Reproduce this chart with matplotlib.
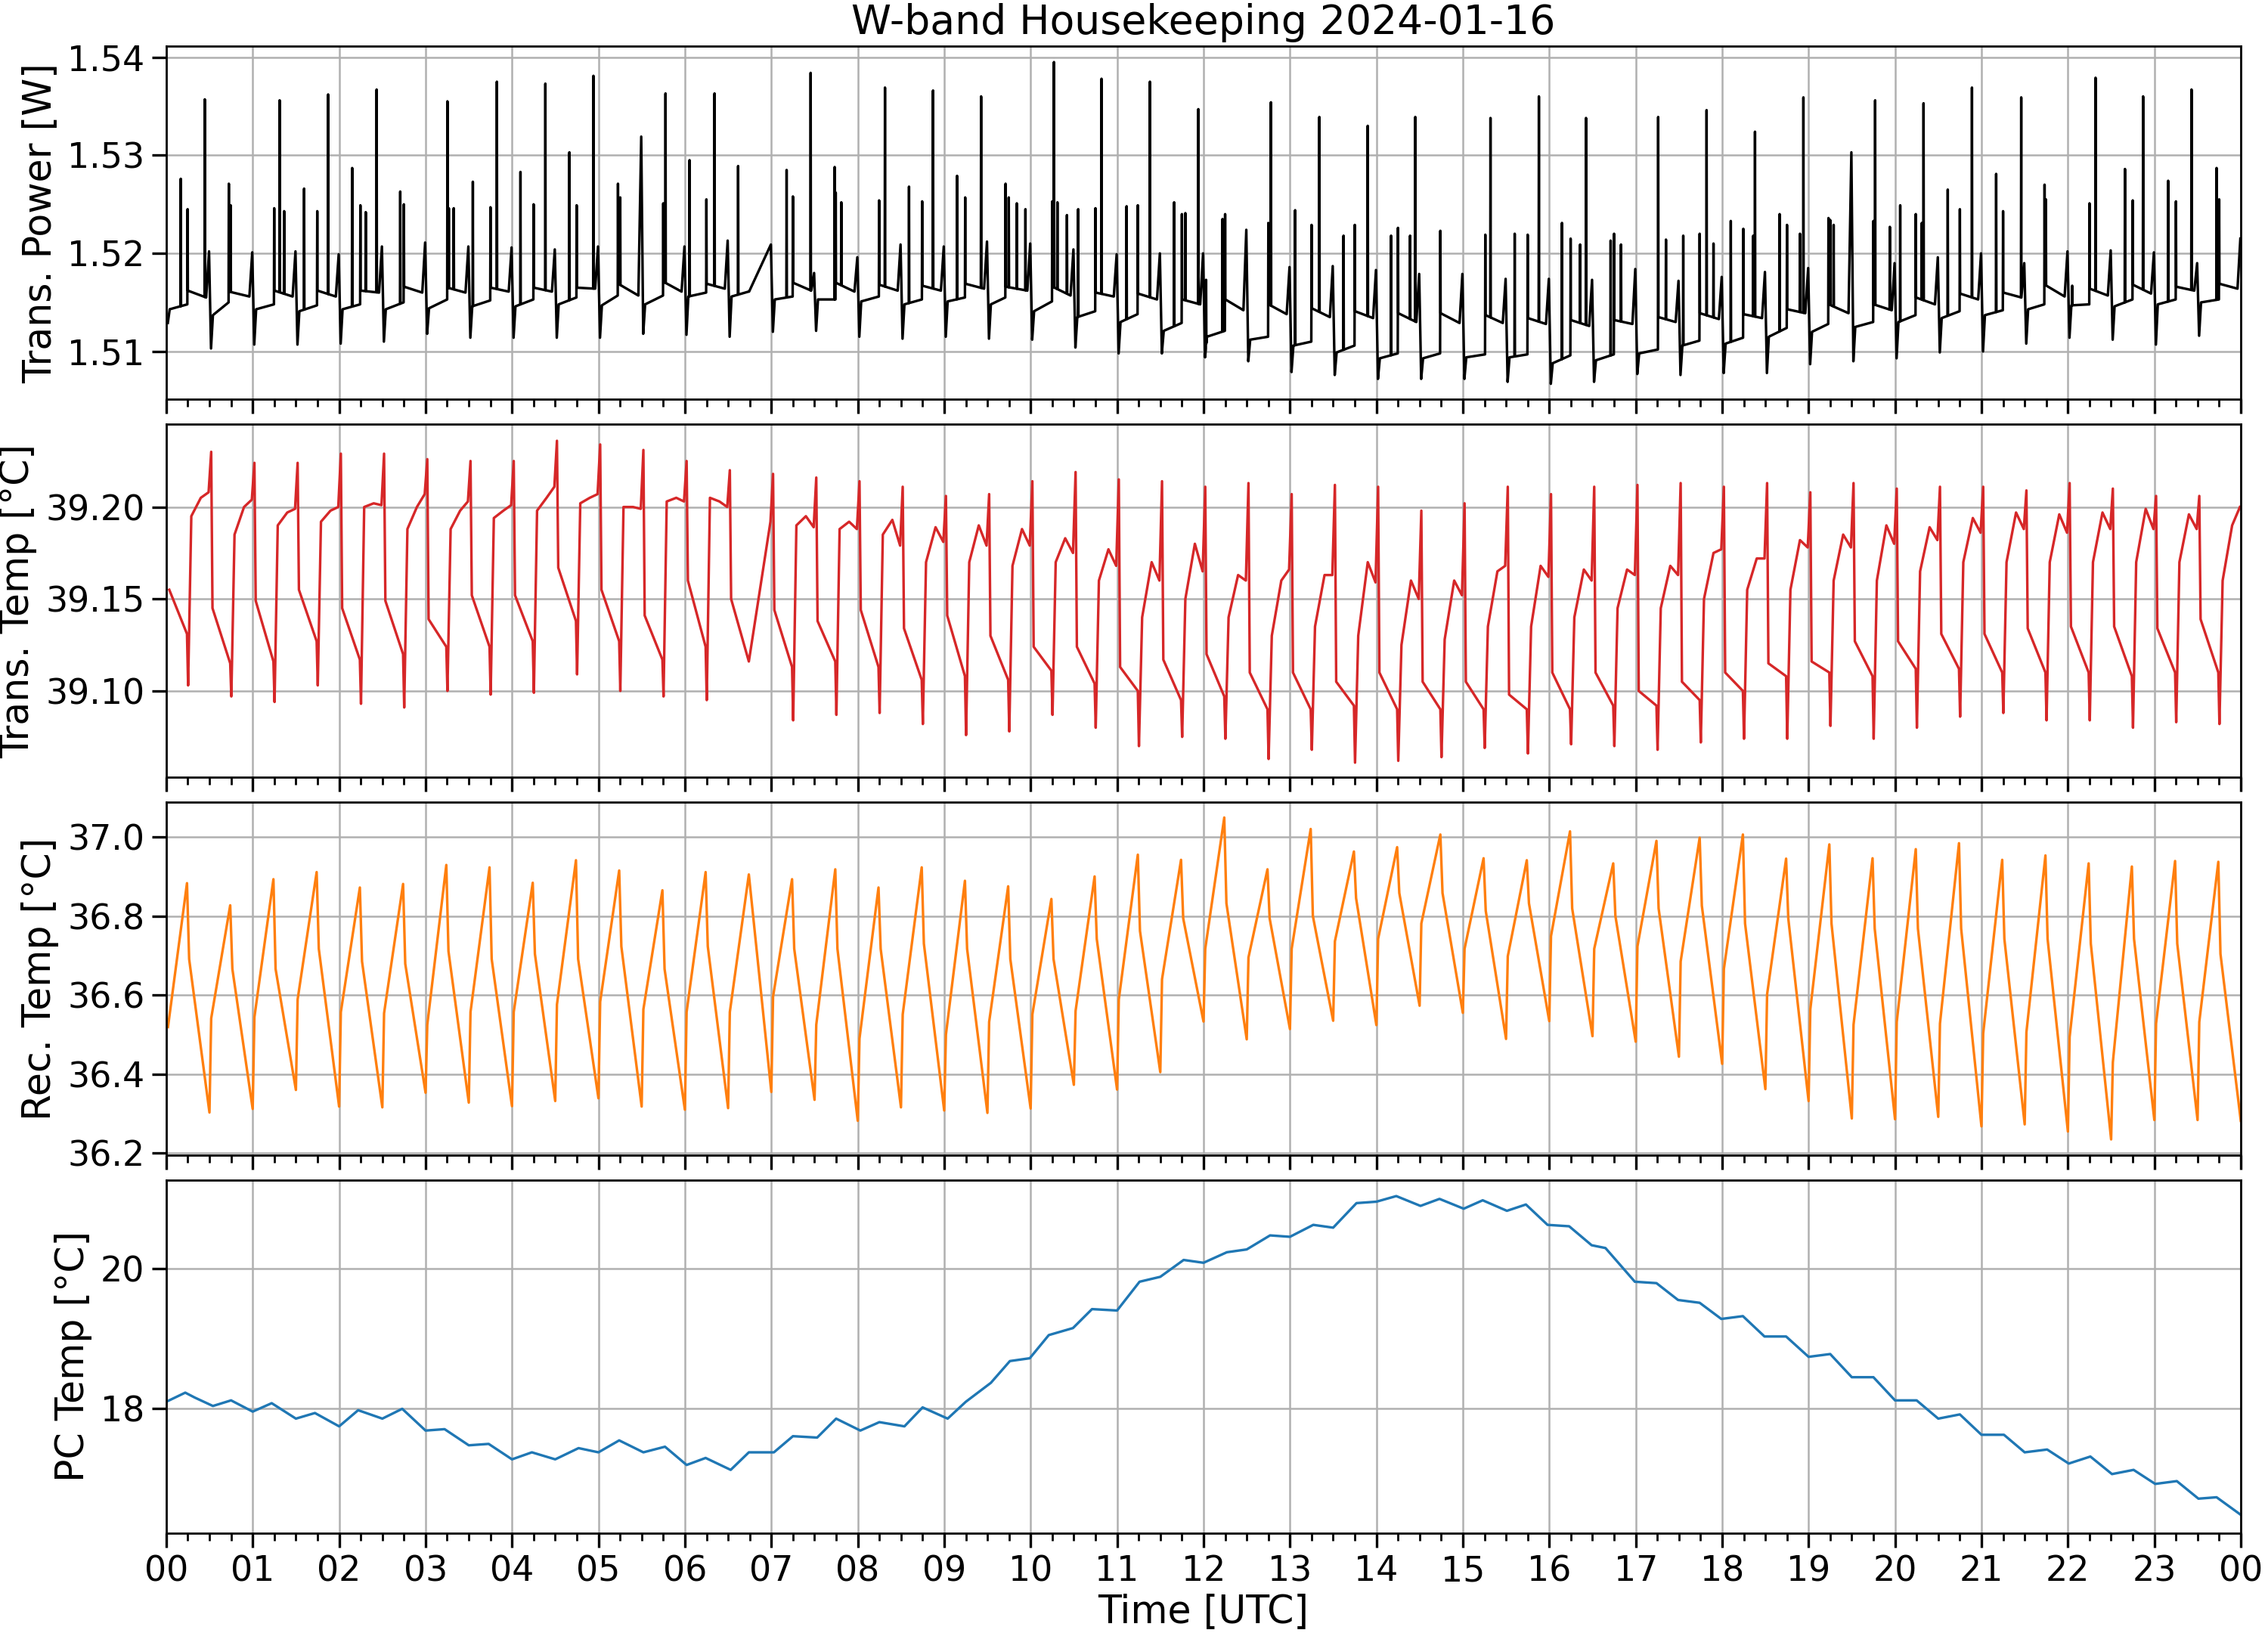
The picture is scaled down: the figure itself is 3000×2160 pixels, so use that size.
import numpy as np
import matplotlib
matplotlib.use("Agg")
import matplotlib.pyplot as plt
import matplotlib.dates as mdates
from matplotlib.ticker import MultipleLocator

day = np.datetime64("2024-01-16T00:00")
gap = (6.745, 6.99)  # no samples here, the line just bridges it

# ---- Trans. Power [W], one entry per half-hour cycle (cycle k starts at 0.5*k h)
pw_dip = [1.5129, 1.5103, 1.5107, 1.5107, 1.5108, 1.5110, 1.5118, 1.5114, 1.5114, 1.5114,
          1.5114, 1.5118, 1.5117, 1.5115, 1.5120, 1.5121, 1.5115, 1.5113, 1.5115, 1.5113,
          1.5112, 1.5104, 1.5098, 1.5098, 1.5094, 1.5090, 1.5079, 1.5076, 1.5072, 1.5072,
          1.5072, 1.5069, 1.5067, 1.5069, 1.5077, 1.5076, 1.5078, 1.5078, 1.5087, 1.5090,
          1.5093, 1.5099, 1.5100, 1.5108, 1.5114, 1.5112, 1.5107, 1.5116]
pw_low_start = [1.5143, 1.5137, 1.5143, 1.5141, 1.5143, 1.5143, 1.5144, 1.5146, 1.5146, 1.5148,
                1.5147, 1.5148, 1.5156, 1.5156, 1.5153, 1.5153, 1.5151, 1.5148, 1.5151, 1.5148,
                1.5141, 1.5135, 1.5130, 1.5121, 1.5115, 1.5112, 1.5106, 1.5099, 1.5093, 1.5093,
                1.5094, 1.5094, 1.5088, 1.5091, 1.5098, 1.5106, 1.5108, 1.5115, 1.5120, 1.5125,
                1.5130, 1.5134, 1.5137, 1.5143, 1.5147, 1.5146, 1.5148, 1.5150]
pw_low_end = [1.5148, 1.5150, 1.5148, 1.5147, 1.5148, 1.5150, 1.5153, 1.5152, 1.5153, 1.5155,
              1.5157, 1.5157, 1.5160, 1.5161, 1.5156, 1.5153, 1.5156, 1.5153, 1.5155, 1.5155,
              1.5151, 1.5141, 1.5138, 1.5129, 1.5121, 1.5115, 1.5110, 1.5106, 1.5098, 1.5098,
              1.5097, 1.5097, 1.5096, 1.5097, 1.5102, 1.5111, 1.5114, 1.5124, 1.5128, 1.5130,
              1.5137, 1.5141, 1.5142, 1.5148, 1.5148, 1.5153, 1.5153, 1.5153]
pw_step = [0.247, 0.724, 1.249, 1.747, 2.246, 2.749, 3.253, 3.751, 4.250, 4.748,
           5.226, 5.750, 6.249, 6.740, 7.250, 7.745, 8.247, 8.745, 9.243, 9.710,
           10.25, 10.75, 11.24, 11.75, 12.25, 12.75, 13.25, 13.75, 14.25, 14.74,
           15.26, 15.75, 16.247, 16.75, 17.26, 17.74, 18.245, 18.75, 19.23, 19.75,
           20.24, 20.75, 21.25, 21.73, 22.25, 22.75, 23.25, 23.75]
pw_high_start = [1.5162, 1.5161, 1.5162, 1.5162, 1.5162, 1.5166, 1.5165, 1.5165, 1.5165, 1.5165,
                 1.5169, 1.5171, 1.5169, 1.5161, 1.5170, 1.5170, 1.5168, 1.5167, 1.5169, 1.5166,
                 1.5166, 1.5160, 1.5159, 1.5153, 1.5153, 1.5148, 1.5144, 1.5141, 1.5139, 1.5139,
                 1.5137, 1.5134, 1.5132, 1.5132, 1.5135, 1.5139, 1.5138, 1.5143, 1.5148, 1.5148,
                 1.5155, 1.5159, 1.5160, 1.5168, 1.5164, 1.5168, 1.5166, 1.5169]
pw_high_end = [1.5155, 1.5156, 1.5156, 1.5156, 1.5160, 1.5160, 1.5160, 1.5161, 1.5161, 1.5164,
               1.5157, 1.5161, 1.5164, 1.5161, 1.5162, 1.5161, 1.5162, 1.5162, 1.5164, 1.5162,
               1.5157, 1.5156, 1.5153, 1.5148, 1.5142, 1.5138, 1.5135, 1.5134, 1.5130, 1.5129,
               1.5129, 1.5128, 1.5126, 1.5128, 1.5130, 1.5133, 1.5134, 1.5139, 1.5139, 1.5142,
               1.5148, 1.5153, 1.5155, 1.5156, 1.5157, 1.5159, 1.5162, 1.5164]
pw_ramp = [1.5202, 1.5201, 1.5202, 1.5199, 1.5207, 1.5211, 1.5207, 1.5206, 1.5204, 1.5207,
           1.5319, 1.5207, 1.5213, 1.5209, 1.5180, 1.5196, 1.5209, 1.5207, 1.5212, 1.5210,
           1.5204, 1.5199, 1.5200, 1.5200, 1.5224, 1.5186, 1.5187, 1.5183, 1.5179, 1.5179,
           1.5174, 1.5174, 1.5173, 1.5184, 1.5172, 1.5176, 1.5181, 1.5185, 1.5303, 1.5190,
           1.5196, 1.5200, 1.5190, 1.5202, 1.5203, 1.5201, 1.5190, 1.5215]
# short spikes (hour, W)
pw_spike_t = [0.168, 0.247, 0.446, 0.724, 0.745, 1.249, 1.312, 1.364, 1.595, 1.747, 1.873,
              2.151, 2.246, 2.308, 2.434, 2.707, 2.749, 3.253, 3.269, 3.326, 3.547, 3.751, 3.825,
              4.098, 4.250, 4.386, 4.664, 4.748, 4.942, 5.226, 5.252, 5.750, 5.776,
              6.054, 6.249, 6.343, 6.616, 7.177, 7.250, 7.455, 7.733, 7.745, 7.810,
              8.247, 8.315, 8.593, 8.745, 8.871, 9.149, 9.243, 9.427, 9.710, 9.747, 9.840, 9.940,
              10.25, 10.27, 10.31, 10.42, 10.55, 10.75, 10.82, 11.11, 11.24, 11.38,
              11.66, 11.75, 11.79, 11.94, 12.03, 12.22, 12.25, 12.75, 12.78,
              13.06, 13.25, 13.34, 13.62, 13.75, 13.90, 14.17, 14.25, 14.39, 14.45, 14.74,
              15.26, 15.32, 15.60, 15.75, 15.88, 16.147, 16.247, 16.357, 16.425,
              16.71, 16.75, 16.83, 17.26, 17.35, 17.55, 17.74, 17.82, 17.90,
              18.10, 18.245, 18.36, 18.38, 18.665, 18.75, 18.90, 18.94, 19.23, 19.25, 19.29,
              19.75, 19.77, 19.94, 20.06, 20.24, 20.31, 20.33, 20.61, 20.75, 20.89,
              21.17, 21.25, 21.46, 21.73, 21.745, 22.05, 22.25, 22.32, 22.66, 22.75, 22.87,
              23.16, 23.25, 23.43, 23.72, 23.75]
pw_spike_v = [1.5276, 1.5245, 1.5357, 1.5271, 1.5249, 1.5246, 1.5356, 1.5243, 1.5266, 1.5243, 1.5362,
              1.5287, 1.5249, 1.5242, 1.5367, 1.5263, 1.5250, 1.5355, 1.5246, 1.5246, 1.5273, 1.5247, 1.5375,
              1.5283, 1.5250, 1.5373, 1.5303, 1.5249, 1.5381, 1.5271, 1.5257, 1.5251, 1.5363,
              1.5295, 1.5255, 1.5363, 1.5289, 1.5285, 1.5258, 1.5384, 1.5288, 1.5262, 1.5252,
              1.5254, 1.5369, 1.5268, 1.5253, 1.5366, 1.5279, 1.5257, 1.5360, 1.5271, 1.5257, 1.5251, 1.5245,
              1.5253, 1.5395, 1.5252, 1.5239, 1.5245, 1.5246, 1.5378, 1.5248, 1.5249, 1.5375,
              1.5252, 1.5240, 1.5241, 1.5347, 1.5173, 1.5235, 1.5240, 1.5231, 1.5354,
              1.5244, 1.5229, 1.5339, 1.5218, 1.5229, 1.5330, 1.5218, 1.5226, 1.5218, 1.5339, 1.5223,
              1.5219, 1.5338, 1.5220, 1.5219, 1.5360, 1.5231, 1.5215, 1.5209, 1.5338,
              1.5213, 1.5220, 1.5209, 1.5339, 1.5214, 1.5218, 1.5220, 1.5346, 1.5210,
              1.5233, 1.5225, 1.5218, 1.5324, 1.5240, 1.5229, 1.5220, 1.5359, 1.5236, 1.5234, 1.5229,
              1.5233, 1.5356, 1.5227, 1.5249, 1.5240, 1.5231, 1.5353, 1.5265, 1.5245, 1.5369,
              1.5281, 1.5243, 1.5359, 1.5270, 1.5255, 1.5167, 1.5251, 1.5379, 1.5286, 1.5254, 1.5360,
              1.5274, 1.5253, 1.5367, 1.5287, 1.5255]

# ---- Trans. Temp [degC], per half-hour cycle
nan = np.nan
tt_spike = [nan, 39.230, 39.224, 39.224, 39.229, 39.229, 39.226, 39.225, 39.225, 39.236,
            39.234, 39.231, 39.225, 39.220, 39.218, 39.216, 39.214, 39.211, 39.206, 39.207,
            39.214, 39.219, 39.215, 39.214, 39.211, 39.213, 39.207, 39.212, 39.211, 39.198,
            39.202, 39.211, 39.207, 39.211, 39.212, 39.213, 39.211, 39.213, 39.208, 39.213,
            39.210, 39.211, 39.211, 39.209, 39.213, 39.210, 39.206, 39.206]
tt_drop = [39.155, 39.145, 39.149, 39.155, 39.145, 39.149, 39.139, 39.152, 39.152, 39.167,
           39.155, 39.141, 39.160, 39.150, 39.144, 39.138, 39.144, 39.134, 39.141, 39.130,
           39.124, 39.124, 39.113, 39.117, 39.120, 39.110, 39.110, 39.105, 39.110, 39.105,
           39.105, 39.098, 39.110, 39.110, 39.100, 39.105, 39.110, 39.115, 39.116, 39.127,
           39.127, 39.131, 39.131, 39.134, 39.135, 39.135, 39.134, 39.139]
tt_low = [39.131, 39.115, 39.116, 39.127, 39.117, 39.120, 39.124, 39.124, 39.127, 39.138,
          39.127, 39.117, 39.124, 39.116, 39.113, 39.116, 39.113, 39.106, 39.108, 39.106,
          39.111, 39.104, 39.100, 39.095, 39.097, 39.090, 39.090, 39.092, 39.090, 39.090,
          39.090, 39.090, 39.090, 39.092, 39.092, 39.095, 39.100, 39.108, 39.110, 39.108,
          39.112, 39.112, 39.110, 39.110, 39.110, 39.108, 39.110, 39.110]
tt_dip = [39.103, 39.097, 39.094, 39.103, 39.093, 39.091, 39.100, 39.098, 39.099, 39.109,
          39.100, 39.097, 39.095, nan, 39.084, 39.087, 39.088, 39.082, 39.076, 39.078,
          39.087, 39.080, 39.070, 39.075, 39.074, 39.063, 39.068, 39.061, 39.062, 39.064,
          39.069, 39.066, 39.071, 39.070, 39.068, 39.072, 39.074, 39.074, 39.081, 39.074,
          39.080, 39.086, 39.088, 39.084, 39.084, 39.080, 39.083, 39.082]
tt_rise = [39.195, 39.185, 39.190, 39.192, 39.200, 39.188, 39.188, 39.194, 39.198, 39.202,
           39.200, 39.203, 39.205, nan, 39.190, 39.188, 39.185, 39.170, 39.170, 39.168,
           39.170, 39.160, 39.140, 39.150, 39.140, 39.130, 39.135, 39.130, 39.125, 39.128,
           39.135, 39.135, 39.140, 39.145, 39.145, 39.150, 39.155, 39.155, 39.160, 39.160,
           39.165, 39.170, 39.170, 39.170, 39.170, 39.170, 39.170, 39.160]
tt_top = [39.205, 39.200, 39.197, 39.198, 39.202, 39.200, 39.198, 39.198, 39.205, 39.205,
          39.200, 39.205, 39.203, nan, 39.195, 39.192, 39.193, 39.189, 39.190, 39.188,
          39.183, 39.177, 39.170, 39.180, 39.163, 39.160, 39.163, 39.170, 39.160, 39.160,
          39.165, 39.168, 39.166, 39.166, 39.168, 39.175, 39.172, 39.182, 39.185, 39.190,
          39.189, 39.194, 39.197, 39.196, 39.197, 39.199, 39.196, 39.190]
tt_end = [39.208, 39.204, 39.199, 39.200, 39.201, 39.207, 39.203, 39.201, 39.211, 39.207,
          39.199, 39.203, 39.200, 39.192, 39.189, 39.188, 39.179, 39.181, 39.179, 39.179,
          39.175, 39.168, 39.160, 39.165, 39.160, 39.166, 39.163, 39.159, 39.150, 39.152,
          39.168, 39.162, 39.160, 39.163, 39.163, 39.177, 39.172, 39.178, 39.178, 39.180,
          39.182, 39.186, 39.188, 39.186, 39.188, 39.188, 39.188, 39.200]

# ---- Rec. Temp [degC]: troughs on every half hour, then knee, peak, drop after peak
rc_trough = [nan, 36.303, 36.312, 36.360, 36.318, 36.316, 36.353, 36.328, 36.319, 36.332,
             36.339, 36.318, 36.310, 36.314, 36.355, 36.335, 36.282, 36.316, 36.308, 36.302,
             36.313, 36.373, 36.361, 36.405, 36.533, 36.488, 36.514, 36.535, 36.524, 36.573,
             36.555, 36.489, 36.534, 36.496, 36.482, 36.444, 36.426, 36.362, 36.332, 36.288,
             36.286, 36.292, 36.268, 36.273, 36.255, 36.235, 36.284, 36.284, 36.282]
rc_knee = [36.519, 36.541, 36.544, 36.589, 36.557, 36.554, 36.525, 36.557, 36.557, 36.576,
           36.583, 36.564, 36.557, 36.557, 36.596, 36.525, 36.490, 36.551, 36.500, 36.532,
           36.551, 36.560, 36.589, 36.640, 36.717, 36.695, 36.717, 36.736, 36.742, 36.781,
           36.717, 36.698, 36.749, 36.717, 36.723, 36.685, 36.666, 36.602, 36.564, 36.525,
           36.532, 36.528, 36.503, 36.506, 36.494, 36.430, 36.528, 36.532]
rc_peak = [36.883, 36.827, 36.893, 36.911, 36.872, 36.881, 36.929, 36.923, 36.884, 36.941,
           36.915, 36.865, 36.911, 36.905, 36.893, 36.918, 36.872, 36.923, 36.889, 36.875,
           36.843, 36.900, 36.955, 36.942, 37.049, 36.918, 37.020, 36.963, 36.974, 37.006,
           36.946, 36.941, 37.014, 36.933, 36.990, 36.998, 37.006, 36.945, 36.981, 36.946,
           36.969, 36.984, 36.942, 36.953, 36.933, 36.925, 36.939, 36.937]
rc_post = [36.691, 36.666, 36.666, 36.717, 36.685, 36.679, 36.711, 36.691, 36.704, 36.691,
           36.723, 36.666, 36.723, nan, 36.717, 36.717, 36.717, 36.730, 36.717, 36.691,
           36.691, 36.742, 36.762, 36.794, 36.832, 36.794, 36.800, 36.845, 36.858, 36.858,
           36.813, 36.832, 36.819, 36.800, 36.819, 36.826, 36.781, 36.794, 36.781, 36.768,
           36.768, 36.768, 36.742, 36.742, 36.730, 36.742, 36.730, 36.704]

# ---- PC Temp [degC]
pc_t = [0.0, 0.22, 0.33, 0.54, 0.75, 1.0, 1.22, 1.5, 1.72, 2.0, 2.22, 2.5, 2.73, 3.0, 3.22,
        3.5, 3.73, 4.0, 4.23, 4.5, 4.77, 5.0, 5.24, 5.52, 5.77, 6.02, 6.24, 6.53, 6.74, 7.03,
        7.25, 7.53, 7.75, 8.03, 8.25, 8.54, 8.75, 9.04, 9.25, 9.54, 9.76, 9.99, 10.21, 10.49,
        10.71, 11.0, 11.26, 11.5, 11.77, 12.0, 12.27, 12.5, 12.77, 13.0, 13.27, 13.5, 13.77,
        14.0, 14.23, 14.51, 14.73, 15.01, 15.23, 15.51, 15.73, 15.98, 16.23, 16.49, 16.65,
        16.99, 17.24, 17.49, 17.74, 17.99, 18.24, 18.49, 18.74, 19.0, 19.25, 19.5, 19.75,
        20.0, 20.25, 20.5, 20.75, 21.0, 21.26, 21.5, 21.76, 22.01, 22.26, 22.51, 22.76,
        23.01, 23.26, 23.51, 23.72, 24.0]
pc_v = [18.10, 18.23, 18.16, 18.04, 18.12, 17.96, 18.08, 17.86, 17.94, 17.75, 17.98, 17.86,
        18.00, 17.69, 17.71, 17.48, 17.50, 17.28, 17.38, 17.28, 17.44, 17.38, 17.55, 17.38,
        17.46, 17.20, 17.30, 17.13, 17.38, 17.38, 17.61, 17.59, 17.86, 17.69, 17.81, 17.75,
        18.02, 17.86, 18.10, 18.37, 18.68, 18.72, 19.05, 19.15, 19.42, 19.40, 19.81, 19.88,
        20.12, 20.08, 20.23, 20.27, 20.47, 20.45, 20.62, 20.58, 20.93, 20.95, 21.03, 20.89,
        20.99, 20.85, 20.97, 20.82, 20.91, 20.62, 20.60, 20.33, 20.29, 19.81, 19.79, 19.55,
        19.51, 19.28, 19.32, 19.03, 19.03, 18.74, 18.78, 18.45, 18.45, 18.12, 18.12, 17.86,
        17.92, 17.63, 17.63, 17.38, 17.42, 17.22, 17.32, 17.07, 17.13, 16.93, 16.97, 16.72,
        16.74, 16.49]


def in_gap(t):
    return gap[0] < t < gap[1]


def cycles(offsets, columns):
    # lay the per-cycle values out on the time axis
    t, v = [], []
    for k in range(len(columns[0])):
        for off, col in zip(offsets, columns):
            if k >= len(col):
                continue
            tk = 0.5 * k + off
            if np.isnan(col[k]) or in_gap(tk):
                continue
            t.append(tk)
            v.append(col[k])
    return np.array(t), np.array(v)


def power_trace():
    t, v = [], []
    for k in range(len(pw_dip)):
        t0 = 0.5 * k
        pts = [(t0 + 0.018, pw_dip[k]), (t0 + 0.04, pw_low_start[k]),
               (pw_step[k] - 0.003, pw_low_end[k]), (pw_step[k] + 0.003, pw_high_start[k]),
               (t0 + 0.462, pw_high_end[k]), (t0 + 0.495, pw_ramp[k])]
        for tk, vk in pts:
            if not in_gap(tk):
                t.append(tk)
                v.append(vk)
    t, v = np.array(t), np.array(v)
    # narrow spikes standing on the trace
    st = np.array(pw_spike_t)
    w = 0.003
    feet_l = np.interp(st - w, t, v)
    feet_r = np.interp(st + w, t, v)
    tt = np.concatenate([t, st - w, st, st + w])
    vv = np.concatenate([v, feet_l, pw_spike_v, feet_r])
    order = np.argsort(tt, kind="stable")
    return tt[order], vv[order]


def to_time(hours):
    ms = np.round(np.asarray(hours) * 3.6e6).astype("int64")
    return day + ms.astype("timedelta64[ms]")


pw_t, pw_v = power_trace()
tt_t, tt_v = cycles([0.02, 0.035, 0.24, 0.253, 0.29, 0.40, 0.49],
                    [tt_spike, tt_drop, tt_low, tt_dip, tt_rise, tt_top, tt_end])
rc_t, rc_v = cycles([0.0, 0.02, 0.24, 0.265], [rc_trough, rc_knee, rc_peak, rc_post])

title_size = 19.3
label_size = 18.2
tick_size = 16.5

fig, axes = plt.subplots(4, 1, sharex=True, figsize=(15, 10.8), dpi=200)
fig.subplots_adjust(left=0.0733, right=0.988, top=0.9716, bottom=0.0612, hspace=0.07)

panels = [
    (pw_t, pw_v, "black", "Trans. Power [W]", (1.5051, 1.5411), 0.01),
    (tt_t, tt_v, "tab:red", "Trans. Temp [°C]", (39.053, 39.245), 0.05),
    (rc_t, rc_v, "tab:orange", "Rec. Temp [°C]", (36.195, 37.088), 0.2),
    (np.array(pc_t), np.array(pc_v), "tab:blue", "PC Temp [°C]", (16.23, 21.26), 2),
]

for ax, (t, v, color, label, ylim, step) in zip(axes, panels):
    ax.plot(to_time(t), v, color=color, lw=1.2)
    ax.set_ylabel(label, fontsize=label_size)
    ax.set_ylim(*ylim)
    ax.yaxis.set_major_locator(MultipleLocator(step))
    ax.grid(True, which="major", color="#b0b0b0", lw=0.9)
    ax.tick_params(axis="both", which="major", direction="out", length=6.8, width=1.2,
                   labelsize=tick_size)
    ax.tick_params(axis="x", which="minor", direction="out", length=3.6, width=1.0)
    for s in ax.spines.values():
        s.set_linewidth(1.0)

axes[-1].set_xlim(to_time(0.0), to_time(24.0))
axes[-1].xaxis.set_major_locator(mdates.HourLocator())
axes[-1].xaxis.set_minor_locator(mdates.MinuteLocator(byminute=[15, 30, 45]))
axes[-1].xaxis.set_major_formatter(mdates.DateFormatter("%H"))
axes[-1].set_xlabel("Time [UTC]", fontsize=label_size, labelpad=2)
axes[0].set_title("W-band Housekeeping 2024-01-16", fontsize=title_size)

fig.savefig("out.png", dpi=200)
